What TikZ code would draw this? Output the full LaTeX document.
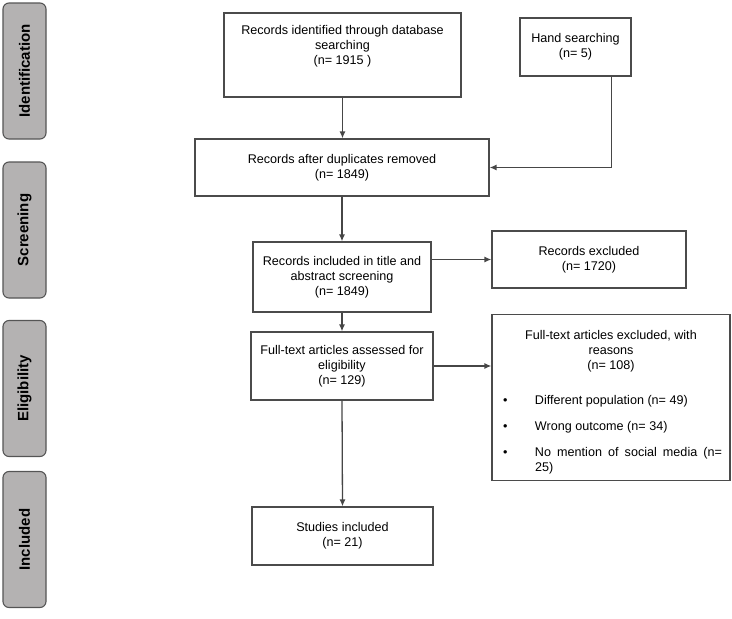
\documentclass[tikz,border=0pt]{standalone}
\usepackage{fontspec}
\setmainfont{Liberation Sans}
\usepackage{tikz}
\usetikzlibrary{arrows,arrows.meta,shapes}

\definecolor{stagefill}{RGB}{180,178,178}
\definecolor{stageline}{RGB}{85,85,85}
\definecolor{boxline}{RGB}{75,75,75}
\definecolor{arrline}{RGB}{70,70,70}

\tikzset{
  box/.style={draw=boxline,line width=1.2pt,align=center,inner sep=3pt,
    font=\fontsize{12.6}{15}\selectfont},
  stage/.style={draw=stageline,fill=stagefill,line width=1.1pt,rounded corners=6pt,
    rotate=90,minimum width=136pt,minimum height=43pt,
    font=\bfseries\fontsize{15}{18}\selectfont},
  arr/.style={-{Latex[length=7pt,width=6pt]},line width=1.3pt,draw=arrline}
}

\newcommand{\exclitem}[1]{\par\vspace{11pt}\hangindent=35pt\hangafter=1\noindent
  \makebox[35pt][l]{\hspace{3pt}\textbullet}#1}

\begin{document}
\begin{tikzpicture}[x=1pt,y=-1pt]
\useasboundingbox (0,0) rectangle (732,619);

% stages
\node (SId) at (24.5,71)[stage] {Identification};
\node (SSc) at (24.5,230)[stage] {Screening};
\node (SEl) at (24.5,388.5)[stage] {Eligibility};
\node (SIn) at (24.5,539.5)[stage] {Included};

% boxes
\node (DB) at (342.5,55)[box,minimum width=237pt,minimum height=84pt] {Records identified through database\\ searching\\ (n= 1915 )\\ \strut};
\node (Hand) at (575.5,47)[box,minimum width=111pt,minimum height=58pt] {Hand searching\\ (n= 5)};
\node (Dup) at (342,167.5)[box,minimum width=294pt,minimum height=57pt] {Records after duplicates removed\\ (n= 1849)};
\node (Scr) at (342,277)[box,minimum width=178pt,minimum height=70pt] {Records included in title and\\ abstract screening\\ (n= 1849)};
\node (RecEx) at (589,259.5)[box,minimum width=194pt,minimum height=57pt] {Records excluded\\ (n= 1720)};
\node (FT) at (342,366)[box,minimum width=182pt,minimum height=68pt] {Full-text articles assessed for\\ eligibility\\ (n= 129)};
\node (FTEx) at (611,397.5)[box,text width=222pt,inner xsep=8pt,inner ysep=6pt,minimum height=165pt,align=justify] {%
  {\centering\rule{0pt}{19.5pt}Full-text articles excluded, with\\ reasons\\ (n= 108)\par}\vspace{9pt}%
  \tolerance=9999\hyphenpenalty=10000
  \exclitem{Different population (n= 49)}
  \exclitem{Wrong outcome (n= 34)}
  \exclitem{No mention of social media (n= 25)}\par};
\node (Stud) at (342.5,536)[box,minimum width=181pt,minimum height=58pt] {Studies included\\ (n= 21)};

% arrows
\draw [arr] (DB.south) -- (DB.south |- Dup.north);
\draw [arr] ([xshift=-20pt]Hand.south east) |- (Dup.east);
\draw [arr] (Dup.south) -- (Scr.north);
\draw [arr] (Scr.east |- RecEx.west) -- (RecEx.west);
\draw [arr] (Scr.south) -- (FT.north);
\draw [arr] (FT.east) -- (FT.east -| FTEx.west);
\draw [arr] (FT.south) -- (Stud.south |- Stud.north);
\end{tikzpicture}
\end{document}
